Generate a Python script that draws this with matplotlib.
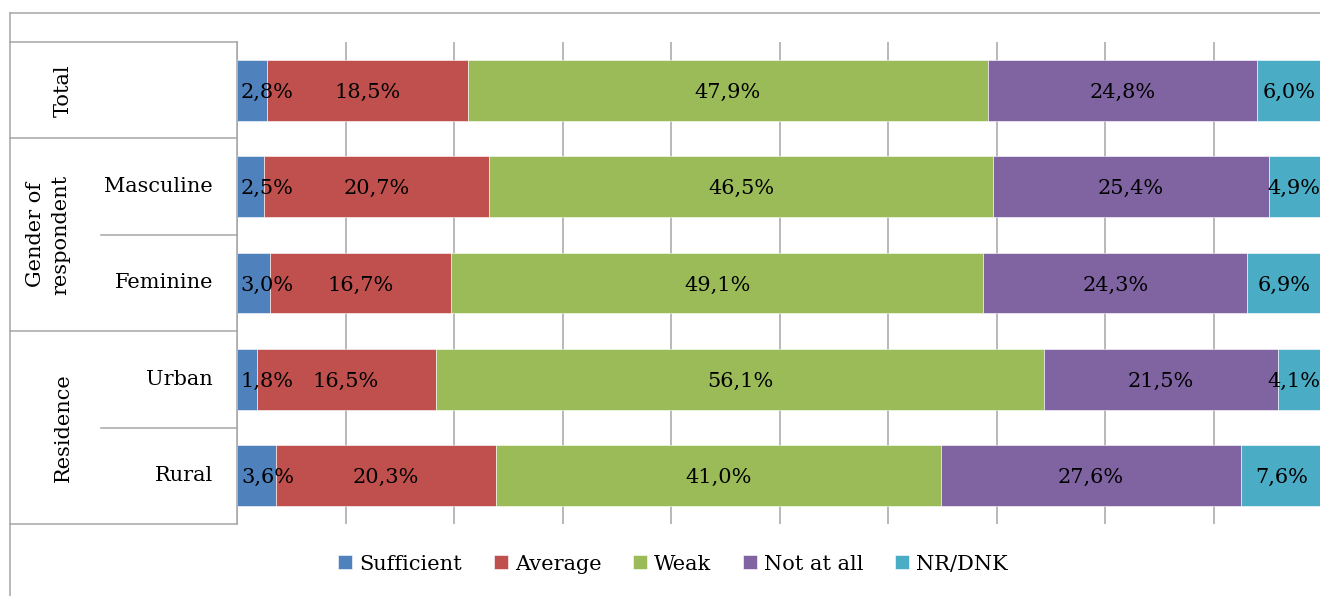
import matplotlib.pyplot as plt
import matplotlib.transforms as mtransforms
from matplotlib.lines import Line2D

plt.rcParams['font.family'] = ['DejaVu Serif']

# data
rows = ['Total', 'Masculine', 'Feminine', 'Urban', 'Rural']
row_labels = ['', 'Masculine', 'Feminine', 'Urban', 'Rural']
series = ['Sufficient', 'Average', 'Weak', 'Not at all', 'NR/DNK']
sufficient = [2.8, 2.5, 3.0, 1.8, 3.6]
average = [18.5, 20.7, 16.7, 16.5, 20.3]
weak = [47.9, 46.5, 49.1, 56.1, 41.0]
not_at_all = [24.8, 25.4, 24.3, 21.5, 27.6]
nr_dnk = [6.0, 4.9, 6.9, 4.1, 7.6]
groups = ['Total', 'Gender of\nrespondent', 'Residence']
group_rows = [(0, 0), (1, 2), (3, 4)]

colors = ['#4F81BD', '#C0504D', '#9BBB59', '#8064A2', '#4BACC6']
grey = '#A6A6A6'
W, H = 1320, 596

fig = plt.figure(figsize=(W / 100, H / 100), dpi=100)
ax = fig.add_axes([237 / W, 72 / H, 1085 / W, 482 / H])

ypos = list(range(len(rows)))
left = [0.0] * len(rows)
for name, vals, col in zip(series, [sufficient, average, weak, not_at_all, nr_dnk], colors):
    ax.barh(ypos, vals, left=left, height=0.63, color=col, label=name,
            edgecolor='white', linewidth=0.4, zorder=2)
    for y, v, l in zip(ypos, vals, left):
        # keep small-segment labels inside the visible plot
        x = max(l + v / 2, l + 2.8)
        x = min(x, 97.4)
        ax.text(x, y + 0.02, f'{v:.1f}%'.replace('.', ','), ha='center', va='center',
                fontsize=15, color='black', zorder=3)
    left = [a + b for a, b in zip(left, vals)]

ax.set_xlim(0, 100)
ax.set_ylim(4.5, -0.5)
ax.set_xticks(range(0, 101, 10))
ax.set_xticklabels([])
ax.set_yticks([])
ax.tick_params(axis='x', length=0)
ax.grid(axis='x', color=grey, linewidth=1.1, zorder=0)
ax.set_axisbelow(True)
for s in ['top', 'right', 'bottom']:
    ax.spines[s].set_visible(False)
ax.spines['left'].set_color(grey)
ax.spines['left'].set_linewidth(1.1)

# left header table
tr = mtransforms.blended_transform_factory(fig.transFigure, ax.transData)
x_out, x_mid, x_ax = 10 / W, 101 / W, 237 / W
for yb, x0 in [(-0.5, x_out), (0.5, x_out), (1.5, x_mid), (2.5, x_out),
               (3.5, x_mid), (4.5, x_out)]:
    ax.add_line(Line2D([x0, x_ax], [yb, yb], transform=tr, color=grey,
                       linewidth=1.1, clip_on=False))

for lab, y in zip(row_labels, ypos):
    ax.text(213 / W, y, lab, transform=tr, ha='right', va='center', fontsize=15)

for g, (a, b) in zip(groups, group_rows):
    xg = 48 / W if '\n' in g else 63 / W
    ax.text(xg, (a + b) / 2, g, transform=tr, ha='center', va='center',
            rotation=90, fontsize=15, linespacing=1.4, multialignment='center')

# outer chart border (top and left visible)
fig.add_artist(Line2D([x_out, 1], [1 - 13 / H, 1 - 13 / H], color=grey, linewidth=1.1))
fig.add_artist(Line2D([x_out, x_out], [0, 1 - 13 / H], color=grey, linewidth=1.1))

fig.legend(loc='center', bbox_to_anchor=(673 / W, 1 - 564 / H), ncol=5,
           frameon=False, fontsize=15, handlelength=0.67, handleheight=0.67,
           handletextpad=0.35, columnspacing=1.5)

fig.savefig('out.png', dpi=100)
